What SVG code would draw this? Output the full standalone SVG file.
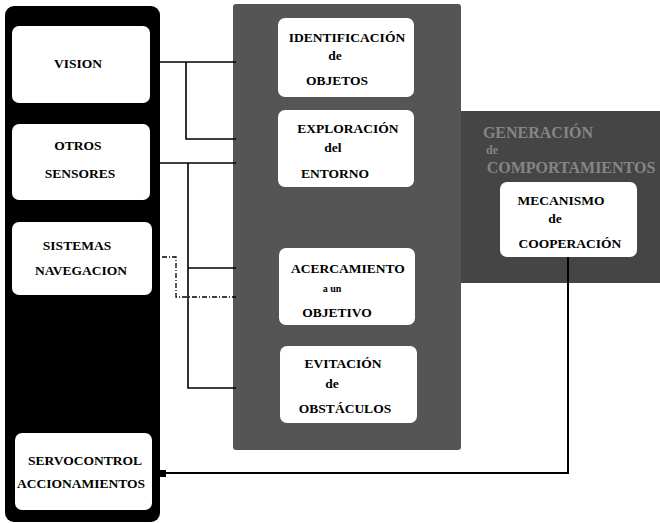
<svg xmlns="http://www.w3.org/2000/svg" width="660" height="523" viewBox="0 0 660 523">
<defs>
<style>
.bg{fill:#ffffff}
.black{fill:#000000}
.stip{fill:#555555}
.stip2{fill:#454545}
.box{fill:#ffffff;stroke:none}
.t{font-family:"Liberation Serif","Times New Roman",serif;font-weight:bold;font-size:13.5px;fill:#000000;text-anchor:middle}
.s{font-size:10px}
.title{font-family:"Liberation Serif","Times New Roman",serif;font-weight:bold;font-size:16px;fill:#858585;text-anchor:middle}
.ln{fill:none;stroke:#000000;stroke-width:1.6}
.dash{fill:none;stroke:#000000;stroke-width:1.3;stroke-dasharray:5 2 1 2}
.thick{fill:none;stroke:#000000;stroke-width:2}
</style>
</defs>
<rect class="bg" x="0" y="0" width="660" height="523"/>

<g id="panel-sensores">
<rect class="black" x="5" y="6" width="155" height="516" rx="9"/>
</g>
<g id="panel-generacion">
<rect class="stip2" x="455" y="111" width="205" height="172"/>
</g>
<g id="panel-comportamientos">
<rect class="stip" x="233" y="4" width="228" height="446" rx="3"/>
</g>
<g id="panel-generacion-title">
<text class="title" x="538" y="138">GENERACIÓN</text>
<text class="title" x="492" y="154" style="font-size:12px">de</text>
<text class="title" x="571" y="173">COMPORTAMIENTOS</text>
</g>

<g id="connectors">
<polyline class="ln" points="158,62 236,62"/>
<polyline class="ln" points="186,62 186,139 236,139"/>
<polyline class="ln" points="158,163 236,163"/>
<polyline class="ln" points="188,163 188,388 236,388"/>
<polyline class="ln" points="188,268 236,268"/>
<polyline class="dash" points="152,257 176,257 176,297 236,297"/>
<polyline class="thick" points="160,473 568,473 568,257"/>
<rect class="black" x="159" y="470" width="7" height="7"/>
</g>

<g id="vision">
<rect class="box" x="12" y="26" width="138" height="77" rx="7"/>
<text class="t" x="78" y="68">VISION</text>
</g>
<g id="otros-sensores">
<rect class="box" x="12" y="124" width="138" height="76" rx="7"/>
<text class="t" x="78" y="150">OTROS</text>
<text class="t" x="80" y="178">SENSORES</text>
</g>
<g id="sistemas-navegacion">
<rect class="box" x="12" y="222" width="140" height="73" rx="7"/>
<text class="t" x="77" y="250">SISTEMAS</text>
<text class="t" x="81" y="275">NAVEGACION</text>
</g>
<g id="servocontrol">
<rect class="box" x="15" y="433" width="137" height="77" rx="7"/>
<text class="t" x="85" y="465">SERVOCONTROL</text>
<text class="t" x="81" y="488">ACCIONAMIENTOS</text>
</g>

<g id="identificacion">
<rect class="box" x="278" y="18" width="136" height="79" rx="7"/>
<text class="t" x="347" y="42">IDENTIFICACIÓN</text>
<text class="t" x="335" y="60">de</text>
<text class="t" x="337" y="85">OBJETOS</text>
</g>
<g id="exploracion">
<rect class="box" x="278" y="110" width="136" height="77" rx="7"/>
<text class="t" x="348" y="133">EXPLORACIÓN</text>
<text class="t" x="333" y="152">del</text>
<text class="t" x="335" y="178">ENTORNO</text>
</g>
<g id="acercamiento">
<rect class="box" x="279" y="248" width="136" height="77" rx="7"/>
<text class="t" x="348" y="273">ACERCAMIENTO</text>
<text class="t s" x="332" y="292">a un</text>
<text class="t" x="337" y="317">OBJETIVO</text>
</g>
<g id="evitacion">
<rect class="box" x="280" y="346" width="137" height="77" rx="7"/>
<text class="t" x="343" y="368">EVITACIÓN</text>
<text class="t" x="332" y="388">de</text>
<text class="t" x="345" y="413">OBSTÁCULOS</text>
</g>

<g id="mecanismo">
<rect class="box" x="500" y="182" width="137" height="75" rx="7"/>
<text class="t" x="561" y="205">MECANISMO</text>
<text class="t" x="555" y="223">de</text>
<text class="t" x="570" y="248">COOPERACIÓN</text>
</g>
</svg>
